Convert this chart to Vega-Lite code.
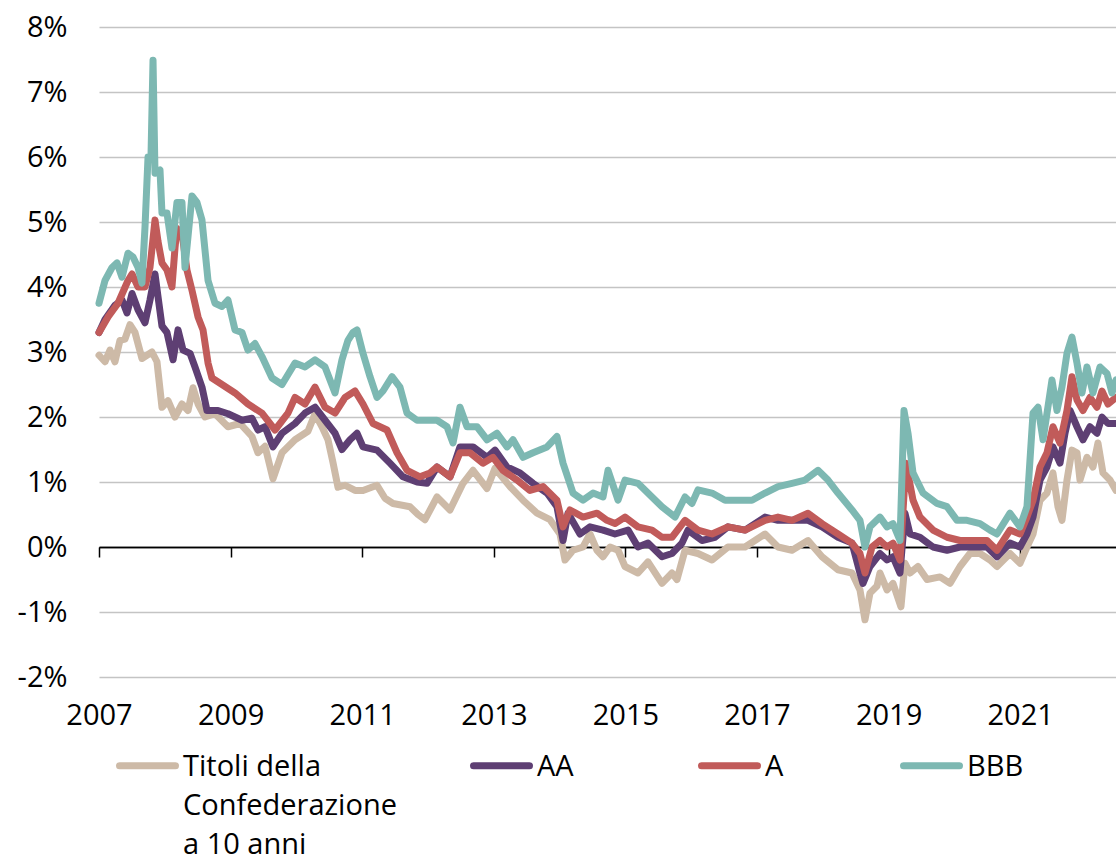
{
 "$schema": "https://vega.github.io/schema/vega-lite/v6.json",
 "width": 1017,
 "height": 650,
 "autosize": {"type": "none"},
 "padding": {"left": 99, "top": 27, "right": 0, "bottom": 177},
 "background": "white",
 "config": {"view": {"stroke": null}, "font": "Open Sans"},
 "datasets": {
  "rates": [
{"t":2007.000,"s":"Titoli della Confederazione a 10 anni","v":2.95},
{"t":2007.091,"s":"Titoli della Confederazione a 10 anni","v":2.85},
{"t":2007.167,"s":"Titoli della Confederazione a 10 anni","v":3.03},
{"t":2007.243,"s":"Titoli della Confederazione a 10 anni","v":2.85},
{"t":2007.319,"s":"Titoli della Confederazione a 10 anni","v":3.18},
{"t":2007.395,"s":"Titoli della Confederazione a 10 anni","v":3.2},
{"t":2007.471,"s":"Titoli della Confederazione a 10 anni","v":3.42},
{"t":2007.547,"s":"Titoli della Confederazione a 10 anni","v":3.3},
{"t":2007.653,"s":"Titoli della Confederazione a 10 anni","v":2.9},
{"t":2007.729,"s":"Titoli della Confederazione a 10 anni","v":2.95},
{"t":2007.805,"s":"Titoli della Confederazione a 10 anni","v":3.0},
{"t":2007.881,"s":"Titoli della Confederazione a 10 anni","v":2.85},
{"t":2007.957,"s":"Titoli della Confederazione a 10 anni","v":2.15},
{"t":2008.049,"s":"Titoli della Confederazione a 10 anni","v":2.25},
{"t":2008.155,"s":"Titoli della Confederazione a 10 anni","v":2.0},
{"t":2008.261,"s":"Titoli della Confederazione a 10 anni","v":2.2},
{"t":2008.353,"s":"Titoli della Confederazione a 10 anni","v":2.1},
{"t":2008.429,"s":"Titoli della Confederazione a 10 anni","v":2.45},
{"t":2008.505,"s":"Titoli della Confederazione a 10 anni","v":2.2},
{"t":2008.611,"s":"Titoli della Confederazione a 10 anni","v":2.0},
{"t":2008.763,"s":"Titoli della Confederazione a 10 anni","v":2.05},
{"t":2008.960,"s":"Titoli della Confederazione a 10 anni","v":1.85},
{"t":2009.143,"s":"Titoli della Confederazione a 10 anni","v":1.9},
{"t":2009.325,"s":"Titoli della Confederazione a 10 anni","v":1.7},
{"t":2009.416,"s":"Titoli della Confederazione a 10 anni","v":1.45},
{"t":2009.523,"s":"Titoli della Confederazione a 10 anni","v":1.55},
{"t":2009.644,"s":"Titoli della Confederazione a 10 anni","v":1.05},
{"t":2009.781,"s":"Titoli della Confederazione a 10 anni","v":1.45},
{"t":2009.979,"s":"Titoli della Confederazione a 10 anni","v":1.65},
{"t":2010.176,"s":"Titoli della Confederazione a 10 anni","v":1.78},
{"t":2010.283,"s":"Titoli della Confederazione a 10 anni","v":2.05},
{"t":2010.389,"s":"Titoli della Confederazione a 10 anni","v":1.85},
{"t":2010.480,"s":"Titoli della Confederazione a 10 anni","v":1.65},
{"t":2010.556,"s":"Titoli della Confederazione a 10 anni","v":1.3},
{"t":2010.632,"s":"Titoli della Confederazione a 10 anni","v":0.92},
{"t":2010.739,"s":"Titoli della Confederazione a 10 anni","v":0.95},
{"t":2010.891,"s":"Titoli della Confederazione a 10 anni","v":0.87},
{"t":2011.012,"s":"Titoli della Confederazione a 10 anni","v":0.87},
{"t":2011.225,"s":"Titoli della Confederazione a 10 anni","v":0.95},
{"t":2011.347,"s":"Titoli della Confederazione a 10 anni","v":0.75},
{"t":2011.468,"s":"Titoli della Confederazione a 10 anni","v":0.67},
{"t":2011.726,"s":"Titoli della Confederazione a 10 anni","v":0.62},
{"t":2011.848,"s":"Titoli della Confederazione a 10 anni","v":0.5},
{"t":2011.954,"s":"Titoli della Confederazione a 10 anni","v":0.42},
{"t":2012.137,"s":"Titoli della Confederazione a 10 anni","v":0.77},
{"t":2012.334,"s":"Titoli della Confederazione a 10 anni","v":0.57},
{"t":2012.532,"s":"Titoli della Confederazione a 10 anni","v":0.98},
{"t":2012.684,"s":"Titoli della Confederazione a 10 anni","v":1.18},
{"t":2012.897,"s":"Titoli della Confederazione a 10 anni","v":0.9},
{"t":2013.018,"s":"Titoli della Confederazione a 10 anni","v":1.21},
{"t":2013.246,"s":"Titoli della Confederazione a 10 anni","v":0.93},
{"t":2013.444,"s":"Titoli della Confederazione a 10 anni","v":0.72},
{"t":2013.657,"s":"Titoli della Confederazione a 10 anni","v":0.52},
{"t":2013.854,"s":"Titoli della Confederazione a 10 anni","v":0.42},
{"t":2014.006,"s":"Titoli della Confederazione a 10 anni","v":0.2},
{"t":2014.082,"s":"Titoli della Confederazione a 10 anni","v":-0.2},
{"t":2014.204,"s":"Titoli della Confederazione a 10 anni","v":-0.05},
{"t":2014.356,"s":"Titoli della Confederazione a 10 anni","v":0.0},
{"t":2014.462,"s":"Titoli della Confederazione a 10 anni","v":0.2},
{"t":2014.568,"s":"Titoli della Confederazione a 10 anni","v":-0.05},
{"t":2014.660,"s":"Titoli della Confederazione a 10 anni","v":-0.15},
{"t":2014.766,"s":"Titoli della Confederazione a 10 anni","v":0.0},
{"t":2014.888,"s":"Titoli della Confederazione a 10 anni","v":-0.05},
{"t":2014.994,"s":"Titoli della Confederazione a 10 anni","v":-0.3},
{"t":2015.191,"s":"Titoli della Confederazione a 10 anni","v":-0.4},
{"t":2015.343,"s":"Titoli della Confederazione a 10 anni","v":-0.23},
{"t":2015.556,"s":"Titoli della Confederazione a 10 anni","v":-0.56},
{"t":2015.708,"s":"Titoli della Confederazione a 10 anni","v":-0.4},
{"t":2015.784,"s":"Titoli della Confederazione a 10 anni","v":-0.5},
{"t":2015.906,"s":"Titoli della Confederazione a 10 anni","v":-0.05},
{"t":2016.103,"s":"Titoli della Confederazione a 10 anni","v":-0.1},
{"t":2016.316,"s":"Titoli della Confederazione a 10 anni","v":-0.2},
{"t":2016.559,"s":"Titoli della Confederazione a 10 anni","v":0.0},
{"t":2016.818,"s":"Titoli della Confederazione a 10 anni","v":0.0},
{"t":2017.122,"s":"Titoli della Confederazione a 10 anni","v":0.2},
{"t":2017.319,"s":"Titoli della Confederazione a 10 anni","v":0.0},
{"t":2017.532,"s":"Titoli della Confederazione a 10 anni","v":-0.05},
{"t":2017.775,"s":"Titoli della Confederazione a 10 anni","v":0.1},
{"t":2017.988,"s":"Titoli della Confederazione a 10 anni","v":-0.15},
{"t":2018.231,"s":"Titoli della Confederazione a 10 anni","v":-0.35},
{"t":2018.444,"s":"Titoli della Confederazione a 10 anni","v":-0.4},
{"t":2018.565,"s":"Titoli della Confederazione a 10 anni","v":-0.66},
{"t":2018.641,"s":"Titoli della Confederazione a 10 anni","v":-1.12},
{"t":2018.717,"s":"Titoli della Confederazione a 10 anni","v":-0.71},
{"t":2018.824,"s":"Titoli della Confederazione a 10 anni","v":-0.6},
{"t":2018.869,"s":"Titoli della Confederazione a 10 anni","v":-0.4},
{"t":2018.976,"s":"Titoli della Confederazione a 10 anni","v":-0.66},
{"t":2019.067,"s":"Titoli della Confederazione a 10 anni","v":-0.56},
{"t":2019.188,"s":"Titoli della Confederazione a 10 anni","v":-0.92},
{"t":2019.249,"s":"Titoli della Confederazione a 10 anni","v":-0.25},
{"t":2019.325,"s":"Titoli della Confederazione a 10 anni","v":-0.4},
{"t":2019.447,"s":"Titoli della Confederazione a 10 anni","v":-0.3},
{"t":2019.584,"s":"Titoli della Confederazione a 10 anni","v":-0.5},
{"t":2019.781,"s":"Titoli della Confederazione a 10 anni","v":-0.46},
{"t":2019.933,"s":"Titoli della Confederazione a 10 anni","v":-0.56},
{"t":2020.085,"s":"Titoli della Confederazione a 10 anni","v":-0.3},
{"t":2020.237,"s":"Titoli della Confederazione a 10 anni","v":-0.1},
{"t":2020.389,"s":"Titoli della Confederazione a 10 anni","v":-0.1},
{"t":2020.541,"s":"Titoli della Confederazione a 10 anni","v":-0.2},
{"t":2020.647,"s":"Titoli della Confederazione a 10 anni","v":-0.3},
{"t":2020.845,"s":"Titoli della Confederazione a 10 anni","v":-0.1},
{"t":2020.997,"s":"Titoli della Confederazione a 10 anni","v":-0.25},
{"t":2021.103,"s":"Titoli della Confederazione a 10 anni","v":0.0},
{"t":2021.195,"s":"Titoli della Confederazione a 10 anni","v":0.2},
{"t":2021.301,"s":"Titoli della Confederazione a 10 anni","v":0.72},
{"t":2021.407,"s":"Titoli della Confederazione a 10 anni","v":0.83},
{"t":2021.498,"s":"Titoli della Confederazione a 10 anni","v":1.14},
{"t":2021.574,"s":"Titoli della Confederazione a 10 anni","v":0.62},
{"t":2021.635,"s":"Titoli della Confederazione a 10 anni","v":0.41},
{"t":2021.711,"s":"Titoli della Confederazione a 10 anni","v":1.03},
{"t":2021.787,"s":"Titoli della Confederazione a 10 anni","v":1.49},
{"t":2021.863,"s":"Titoli della Confederazione a 10 anni","v":1.45},
{"t":2021.909,"s":"Titoli della Confederazione a 10 anni","v":1.03},
{"t":2022.015,"s":"Titoli della Confederazione a 10 anni","v":1.38},
{"t":2022.106,"s":"Titoli della Confederazione a 10 anni","v":1.23},
{"t":2022.182,"s":"Titoli della Confederazione a 10 anni","v":1.6},
{"t":2022.258,"s":"Titoli della Confederazione a 10 anni","v":1.14},
{"t":2022.365,"s":"Titoli della Confederazione a 10 anni","v":1.03},
{"t":2022.456,"s":"Titoli della Confederazione a 10 anni","v":0.87},
{"t":2007.000,"s":"AA","v":3.3},
{"t":2007.091,"s":"AA","v":3.5},
{"t":2007.243,"s":"AA","v":3.72},
{"t":2007.350,"s":"AA","v":3.8},
{"t":2007.426,"s":"AA","v":3.6},
{"t":2007.502,"s":"AA","v":3.9},
{"t":2007.593,"s":"AA","v":3.65},
{"t":2007.699,"s":"AA","v":3.45},
{"t":2007.775,"s":"AA","v":3.8},
{"t":2007.851,"s":"AA","v":4.2},
{"t":2007.897,"s":"AA","v":3.85},
{"t":2007.957,"s":"AA","v":3.4},
{"t":2008.033,"s":"AA","v":3.3},
{"t":2008.125,"s":"AA","v":2.88},
{"t":2008.201,"s":"AA","v":3.34},
{"t":2008.277,"s":"AA","v":3.03},
{"t":2008.383,"s":"AA","v":2.98},
{"t":2008.459,"s":"AA","v":2.77},
{"t":2008.565,"s":"AA","v":2.46},
{"t":2008.641,"s":"AA","v":2.1},
{"t":2008.809,"s":"AA","v":2.1},
{"t":2008.960,"s":"AA","v":2.05},
{"t":2009.173,"s":"AA","v":1.95},
{"t":2009.325,"s":"AA","v":1.98},
{"t":2009.416,"s":"AA","v":1.8},
{"t":2009.523,"s":"AA","v":1.85},
{"t":2009.644,"s":"AA","v":1.54},
{"t":2009.781,"s":"AA","v":1.75},
{"t":2009.979,"s":"AA","v":1.9},
{"t":2010.131,"s":"AA","v":2.06},
{"t":2010.283,"s":"AA","v":2.15},
{"t":2010.435,"s":"AA","v":1.95},
{"t":2010.587,"s":"AA","v":1.75},
{"t":2010.693,"s":"AA","v":1.5},
{"t":2010.815,"s":"AA","v":1.65},
{"t":2010.921,"s":"AA","v":1.75},
{"t":2011.012,"s":"AA","v":1.54},
{"t":2011.225,"s":"AA","v":1.49},
{"t":2011.422,"s":"AA","v":1.29},
{"t":2011.620,"s":"AA","v":1.08},
{"t":2011.833,"s":"AA","v":1.0},
{"t":2011.985,"s":"AA","v":0.98},
{"t":2012.137,"s":"AA","v":1.23},
{"t":2012.334,"s":"AA","v":1.08},
{"t":2012.486,"s":"AA","v":1.54},
{"t":2012.684,"s":"AA","v":1.54},
{"t":2012.897,"s":"AA","v":1.38},
{"t":2013.018,"s":"AA","v":1.49},
{"t":2013.201,"s":"AA","v":1.23},
{"t":2013.398,"s":"AA","v":1.14},
{"t":2013.596,"s":"AA","v":0.98},
{"t":2013.809,"s":"AA","v":0.83},
{"t":2013.960,"s":"AA","v":0.62},
{"t":2014.052,"s":"AA","v":0.1},
{"t":2014.128,"s":"AA","v":0.52},
{"t":2014.310,"s":"AA","v":0.2},
{"t":2014.462,"s":"AA","v":0.31},
{"t":2014.660,"s":"AA","v":0.26},
{"t":2014.842,"s":"AA","v":0.2},
{"t":2015.040,"s":"AA","v":0.26},
{"t":2015.191,"s":"AA","v":0.0},
{"t":2015.343,"s":"AA","v":0.06},
{"t":2015.556,"s":"AA","v":-0.15},
{"t":2015.708,"s":"AA","v":-0.1},
{"t":2015.860,"s":"AA","v":0.06},
{"t":2015.951,"s":"AA","v":0.26},
{"t":2016.164,"s":"AA","v":0.1},
{"t":2016.362,"s":"AA","v":0.15},
{"t":2016.559,"s":"AA","v":0.31},
{"t":2016.818,"s":"AA","v":0.26},
{"t":2017.122,"s":"AA","v":0.46},
{"t":2017.319,"s":"AA","v":0.41},
{"t":2017.532,"s":"AA","v":0.41},
{"t":2017.775,"s":"AA","v":0.41},
{"t":2017.988,"s":"AA","v":0.31},
{"t":2018.231,"s":"AA","v":0.15},
{"t":2018.444,"s":"AA","v":0.06},
{"t":2018.565,"s":"AA","v":-0.4},
{"t":2018.611,"s":"AA","v":-0.56},
{"t":2018.717,"s":"AA","v":-0.3},
{"t":2018.869,"s":"AA","v":-0.1},
{"t":2018.976,"s":"AA","v":-0.2},
{"t":2019.067,"s":"AA","v":-0.15},
{"t":2019.173,"s":"AA","v":-0.4},
{"t":2019.249,"s":"AA","v":0.52},
{"t":2019.325,"s":"AA","v":0.2},
{"t":2019.477,"s":"AA","v":0.15},
{"t":2019.675,"s":"AA","v":0.0},
{"t":2019.888,"s":"AA","v":-0.05},
{"t":2020.085,"s":"AA","v":0.0},
{"t":2020.283,"s":"AA","v":0.0},
{"t":2020.495,"s":"AA","v":0.0},
{"t":2020.647,"s":"AA","v":-0.15},
{"t":2020.845,"s":"AA","v":0.06},
{"t":2020.997,"s":"AA","v":0.0},
{"t":2021.103,"s":"AA","v":0.2},
{"t":2021.195,"s":"AA","v":0.46},
{"t":2021.301,"s":"AA","v":1.03},
{"t":2021.407,"s":"AA","v":1.23},
{"t":2021.498,"s":"AA","v":1.54},
{"t":2021.605,"s":"AA","v":1.29},
{"t":2021.681,"s":"AA","v":1.75},
{"t":2021.757,"s":"AA","v":2.1},
{"t":2021.863,"s":"AA","v":1.85},
{"t":2021.954,"s":"AA","v":1.65},
{"t":2022.061,"s":"AA","v":1.85},
{"t":2022.167,"s":"AA","v":1.75},
{"t":2022.243,"s":"AA","v":2.0},
{"t":2022.334,"s":"AA","v":1.9},
{"t":2022.456,"s":"AA","v":1.9},
{"t":2007.000,"s":"A","v":3.3},
{"t":2007.137,"s":"A","v":3.54},
{"t":2007.289,"s":"A","v":3.75},
{"t":2007.441,"s":"A","v":4.1},
{"t":2007.502,"s":"A","v":4.2},
{"t":2007.593,"s":"A","v":4.0},
{"t":2007.699,"s":"A","v":4.0},
{"t":2007.775,"s":"A","v":4.3},
{"t":2007.851,"s":"A","v":5.03},
{"t":2007.897,"s":"A","v":4.7},
{"t":2007.957,"s":"A","v":4.37},
{"t":2008.033,"s":"A","v":4.26},
{"t":2008.109,"s":"A","v":4.0},
{"t":2008.155,"s":"A","v":4.6},
{"t":2008.185,"s":"A","v":4.9},
{"t":2008.261,"s":"A","v":4.83},
{"t":2008.337,"s":"A","v":4.26},
{"t":2008.413,"s":"A","v":3.95},
{"t":2008.505,"s":"A","v":3.54},
{"t":2008.581,"s":"A","v":3.34},
{"t":2008.657,"s":"A","v":2.83},
{"t":2008.717,"s":"A","v":2.6},
{"t":2008.869,"s":"A","v":2.5},
{"t":2009.067,"s":"A","v":2.37},
{"t":2009.264,"s":"A","v":2.2},
{"t":2009.477,"s":"A","v":2.06},
{"t":2009.675,"s":"A","v":1.8},
{"t":2009.872,"s":"A","v":2.06},
{"t":2009.979,"s":"A","v":2.3},
{"t":2010.131,"s":"A","v":2.2},
{"t":2010.283,"s":"A","v":2.46},
{"t":2010.435,"s":"A","v":2.15},
{"t":2010.587,"s":"A","v":2.06},
{"t":2010.739,"s":"A","v":2.3},
{"t":2010.891,"s":"A","v":2.4},
{"t":2011.012,"s":"A","v":2.2},
{"t":2011.164,"s":"A","v":1.9},
{"t":2011.377,"s":"A","v":1.8},
{"t":2011.529,"s":"A","v":1.45},
{"t":2011.681,"s":"A","v":1.18},
{"t":2011.878,"s":"A","v":1.08},
{"t":2012.030,"s":"A","v":1.14},
{"t":2012.137,"s":"A","v":1.23},
{"t":2012.334,"s":"A","v":1.08},
{"t":2012.486,"s":"A","v":1.45},
{"t":2012.638,"s":"A","v":1.45},
{"t":2012.836,"s":"A","v":1.29},
{"t":2012.988,"s":"A","v":1.38},
{"t":2013.140,"s":"A","v":1.18},
{"t":2013.353,"s":"A","v":1.03},
{"t":2013.550,"s":"A","v":0.87},
{"t":2013.748,"s":"A","v":0.93},
{"t":2013.960,"s":"A","v":0.72},
{"t":2014.052,"s":"A","v":0.31},
{"t":2014.158,"s":"A","v":0.57},
{"t":2014.356,"s":"A","v":0.46},
{"t":2014.568,"s":"A","v":0.52},
{"t":2014.720,"s":"A","v":0.41},
{"t":2014.842,"s":"A","v":0.36},
{"t":2014.994,"s":"A","v":0.46},
{"t":2015.191,"s":"A","v":0.31},
{"t":2015.404,"s":"A","v":0.26},
{"t":2015.556,"s":"A","v":0.15},
{"t":2015.708,"s":"A","v":0.15},
{"t":2015.906,"s":"A","v":0.41},
{"t":2016.103,"s":"A","v":0.26},
{"t":2016.316,"s":"A","v":0.2},
{"t":2016.559,"s":"A","v":0.31},
{"t":2016.818,"s":"A","v":0.26},
{"t":2017.122,"s":"A","v":0.41},
{"t":2017.319,"s":"A","v":0.46},
{"t":2017.532,"s":"A","v":0.41},
{"t":2017.775,"s":"A","v":0.52},
{"t":2017.988,"s":"A","v":0.36},
{"t":2018.231,"s":"A","v":0.2},
{"t":2018.444,"s":"A","v":0.06},
{"t":2018.565,"s":"A","v":-0.1},
{"t":2018.641,"s":"A","v":-0.4},
{"t":2018.748,"s":"A","v":0.0},
{"t":2018.869,"s":"A","v":0.1},
{"t":2018.976,"s":"A","v":0.0},
{"t":2019.067,"s":"A","v":0.06},
{"t":2019.173,"s":"A","v":-0.2},
{"t":2019.264,"s":"A","v":1.29},
{"t":2019.371,"s":"A","v":0.72},
{"t":2019.477,"s":"A","v":0.46},
{"t":2019.675,"s":"A","v":0.26},
{"t":2019.888,"s":"A","v":0.15},
{"t":2020.085,"s":"A","v":0.1},
{"t":2020.283,"s":"A","v":0.1},
{"t":2020.495,"s":"A","v":0.1},
{"t":2020.647,"s":"A","v":-0.05},
{"t":2020.845,"s":"A","v":0.26},
{"t":2020.997,"s":"A","v":0.2},
{"t":2021.103,"s":"A","v":0.46},
{"t":2021.195,"s":"A","v":0.72},
{"t":2021.301,"s":"A","v":1.23},
{"t":2021.407,"s":"A","v":1.45},
{"t":2021.498,"s":"A","v":1.85},
{"t":2021.605,"s":"A","v":1.6},
{"t":2021.711,"s":"A","v":2.1},
{"t":2021.787,"s":"A","v":2.62},
{"t":2021.863,"s":"A","v":2.26},
{"t":2021.954,"s":"A","v":2.1},
{"t":2022.061,"s":"A","v":2.3},
{"t":2022.167,"s":"A","v":2.15},
{"t":2022.243,"s":"A","v":2.4},
{"t":2022.334,"s":"A","v":2.2},
{"t":2022.456,"s":"A","v":2.3},
{"t":2007.000,"s":"BBB","v":3.75},
{"t":2007.091,"s":"BBB","v":4.1},
{"t":2007.198,"s":"BBB","v":4.3},
{"t":2007.274,"s":"BBB","v":4.37},
{"t":2007.350,"s":"BBB","v":4.15},
{"t":2007.441,"s":"BBB","v":4.52},
{"t":2007.517,"s":"BBB","v":4.46},
{"t":2007.593,"s":"BBB","v":4.3},
{"t":2007.653,"s":"BBB","v":4.06},
{"t":2007.699,"s":"BBB","v":4.92},
{"t":2007.745,"s":"BBB","v":6.0},
{"t":2007.790,"s":"BBB","v":6.0},
{"t":2007.821,"s":"BBB","v":7.49},
{"t":2007.851,"s":"BBB","v":5.75},
{"t":2007.927,"s":"BBB","v":5.8},
{"t":2007.957,"s":"BBB","v":5.14},
{"t":2008.033,"s":"BBB","v":5.14},
{"t":2008.109,"s":"BBB","v":4.6},
{"t":2008.185,"s":"BBB","v":5.3},
{"t":2008.261,"s":"BBB","v":5.3},
{"t":2008.307,"s":"BBB","v":4.3},
{"t":2008.413,"s":"BBB","v":5.4},
{"t":2008.489,"s":"BBB","v":5.3},
{"t":2008.565,"s":"BBB","v":5.03},
{"t":2008.657,"s":"BBB","v":4.1},
{"t":2008.763,"s":"BBB","v":3.75},
{"t":2008.869,"s":"BBB","v":3.7},
{"t":2008.960,"s":"BBB","v":3.8},
{"t":2009.067,"s":"BBB","v":3.34},
{"t":2009.173,"s":"BBB","v":3.3},
{"t":2009.264,"s":"BBB","v":3.03},
{"t":2009.371,"s":"BBB","v":3.13},
{"t":2009.477,"s":"BBB","v":2.93},
{"t":2009.629,"s":"BBB","v":2.6},
{"t":2009.781,"s":"BBB","v":2.5},
{"t":2009.979,"s":"BBB","v":2.83},
{"t":2010.131,"s":"BBB","v":2.77},
{"t":2010.283,"s":"BBB","v":2.88},
{"t":2010.435,"s":"BBB","v":2.77},
{"t":2010.587,"s":"BBB","v":2.37},
{"t":2010.693,"s":"BBB","v":2.88},
{"t":2010.784,"s":"BBB","v":3.18},
{"t":2010.860,"s":"BBB","v":3.3},
{"t":2010.921,"s":"BBB","v":3.34},
{"t":2011.012,"s":"BBB","v":2.98},
{"t":2011.119,"s":"BBB","v":2.62},
{"t":2011.225,"s":"BBB","v":2.3},
{"t":2011.316,"s":"BBB","v":2.4},
{"t":2011.453,"s":"BBB","v":2.62},
{"t":2011.574,"s":"BBB","v":2.46},
{"t":2011.681,"s":"BBB","v":2.06},
{"t":2011.833,"s":"BBB","v":1.95},
{"t":2011.985,"s":"BBB","v":1.95},
{"t":2012.137,"s":"BBB","v":1.95},
{"t":2012.289,"s":"BBB","v":1.85},
{"t":2012.380,"s":"BBB","v":1.6},
{"t":2012.486,"s":"BBB","v":2.15},
{"t":2012.593,"s":"BBB","v":1.85},
{"t":2012.745,"s":"BBB","v":1.85},
{"t":2012.897,"s":"BBB","v":1.65},
{"t":2013.049,"s":"BBB","v":1.75},
{"t":2013.201,"s":"BBB","v":1.54},
{"t":2013.292,"s":"BBB","v":1.65},
{"t":2013.444,"s":"BBB","v":1.38},
{"t":2013.596,"s":"BBB","v":1.45},
{"t":2013.809,"s":"BBB","v":1.54},
{"t":2013.960,"s":"BBB","v":1.7},
{"t":2014.052,"s":"BBB","v":1.29},
{"t":2014.204,"s":"BBB","v":0.83},
{"t":2014.356,"s":"BBB","v":0.72},
{"t":2014.508,"s":"BBB","v":0.83},
{"t":2014.660,"s":"BBB","v":0.77},
{"t":2014.736,"s":"BBB","v":1.18},
{"t":2014.888,"s":"BBB","v":0.72},
{"t":2014.994,"s":"BBB","v":1.03},
{"t":2015.191,"s":"BBB","v":0.98},
{"t":2015.404,"s":"BBB","v":0.77},
{"t":2015.556,"s":"BBB","v":0.62},
{"t":2015.754,"s":"BBB","v":0.46},
{"t":2015.906,"s":"BBB","v":0.77},
{"t":2016.012,"s":"BBB","v":0.67},
{"t":2016.103,"s":"BBB","v":0.88},
{"t":2016.316,"s":"BBB","v":0.83},
{"t":2016.514,"s":"BBB","v":0.72},
{"t":2016.711,"s":"BBB","v":0.72},
{"t":2016.924,"s":"BBB","v":0.72},
{"t":2017.122,"s":"BBB","v":0.83},
{"t":2017.319,"s":"BBB","v":0.93},
{"t":2017.532,"s":"BBB","v":0.98},
{"t":2017.729,"s":"BBB","v":1.03},
{"t":2017.927,"s":"BBB","v":1.18},
{"t":2018.079,"s":"BBB","v":1.03},
{"t":2018.231,"s":"BBB","v":0.83},
{"t":2018.444,"s":"BBB","v":0.57},
{"t":2018.565,"s":"BBB","v":0.41},
{"t":2018.641,"s":"BBB","v":0.0},
{"t":2018.717,"s":"BBB","v":0.31},
{"t":2018.869,"s":"BBB","v":0.46},
{"t":2018.976,"s":"BBB","v":0.31},
{"t":2019.067,"s":"BBB","v":0.36},
{"t":2019.173,"s":"BBB","v":0.1},
{"t":2019.234,"s":"BBB","v":2.1},
{"t":2019.295,"s":"BBB","v":1.75},
{"t":2019.371,"s":"BBB","v":1.14},
{"t":2019.523,"s":"BBB","v":0.83},
{"t":2019.736,"s":"BBB","v":0.67},
{"t":2019.888,"s":"BBB","v":0.62},
{"t":2020.040,"s":"BBB","v":0.41},
{"t":2020.191,"s":"BBB","v":0.41},
{"t":2020.389,"s":"BBB","v":0.36},
{"t":2020.541,"s":"BBB","v":0.26},
{"t":2020.647,"s":"BBB","v":0.2},
{"t":2020.845,"s":"BBB","v":0.52},
{"t":2020.997,"s":"BBB","v":0.31},
{"t":2021.103,"s":"BBB","v":0.62},
{"t":2021.195,"s":"BBB","v":2.06},
{"t":2021.271,"s":"BBB","v":2.15},
{"t":2021.347,"s":"BBB","v":1.65},
{"t":2021.483,"s":"BBB","v":2.57},
{"t":2021.559,"s":"BBB","v":2.1},
{"t":2021.635,"s":"BBB","v":2.46},
{"t":2021.711,"s":"BBB","v":2.98},
{"t":2021.787,"s":"BBB","v":3.23},
{"t":2021.863,"s":"BBB","v":2.83},
{"t":2021.939,"s":"BBB","v":2.37},
{"t":2022.015,"s":"BBB","v":2.77},
{"t":2022.106,"s":"BBB","v":2.37},
{"t":2022.213,"s":"BBB","v":2.77},
{"t":2022.319,"s":"BBB","v":2.67},
{"t":2022.395,"s":"BBB","v":2.37},
{"t":2022.456,"s":"BBB","v":2.57}
  ]
 },
 "data": {"name": "rates"},
 "layer": [
  {
   "mark": {"type": "line", "strokeWidth": 7, "strokeJoin": "round", "strokeCap": "round"},
   "encoding": {
    "x": {
     "field": "t", "type": "quantitative",
     "scale": {"domain": [2007, 2022.456], "nice": false, "zero": false},
     "axis": {"orient": "bottom", "offset": -130, "values": [2007, 2009, 2011, 2013, 2015, 2017, 2019, 2021],
      "labels": false, "ticks": true, "tickSize": 10, "tickColor": "black", "tickWidth": 1.5,
      "domain": true, "domainColor": "black", "domainWidth": 1.5, "grid": false, "title": null, "zindex": 0}
    },
    "y": {
     "field": "v", "type": "quantitative",
     "scale": {"domain": [-2, 8], "nice": false, "zero": false},
     "axis": {"orient": "left", "values": [-2, -1, 0, 1, 2, 3, 4, 5, 6, 7, 8], "labelExpr": "datum.value + '%'",
      "domain": false, "ticks": false, "tickSize": 0, "labelPadding": 32, "labelFontSize": 29, "labelFont": "Open Sans",
      "labelColor": "black", "grid": true,
      "gridColor": {"condition": {"test": "datum.value === 0", "value": "black"}, "value": "#c4c4c4"},
      "gridWidth": 1.5, "title": null}
    },
    "color": {
     "field": "s", "type": "nominal",
     "scale": {"domain": ["Titoli della Confederazione a 10 anni", "AA", "A", "BBB"], "range": ["#cdbaa7", "#5e3f73", "#c15b5a", "#7db8b2"]},
     "legend": {
      "orient": "none", "legendX": 17, "legendY": 707, "direction": "horizontal", "columns": 4, "title": null,
      "symbolType": "stroke", "symbolSize": 3136, "symbolStrokeWidth": 7,
      "labelFontSize": 29, "labelFont": "Open Sans", "labelColor": "black", "labelOffset": 4, "labelLimit": 500,
      "columnPadding": 62, "padding": 0, "gridAlign": "each", "labelBaseline": "alphabetic",
      "labelExpr": "datum.label == 'AA' ? ['AA    \u2800', ' ', ' '] : datum.label == 'A' ? ['A   \u2800', ' ', ' '] : datum.label == 'BBB' ? ['BBB', ' ', ' '] : ['Titoli della', 'Confederazione', 'a 10 anni']",
      "encode": {
       "symbols": {"update": {"strokeCap": {"value": "round"}}},
       "labels": {"update": {"dy": {"value": 10}, "lineHeight": {"value": 39}}}
      }
     }
    }
   }
  },
  {
   "mark": {"type": "point", "opacity": 0},
   "encoding": {
    "x": {
     "aggregate": "min", "field": "t", "type": "quantitative",
     "axis": {"orient": "bottom", "values": [2007, 2009, 2011, 2013, 2015, 2017, 2019, 2021], "format": "d",
      "labelFlush": false, "labelOverlap": false, "labelPadding": 24, "labelFontSize": 29, "labelFont": "Open Sans",
      "labelColor": "black", "ticks": false, "tickSize": 0, "domain": false, "grid": false, "title": null}
    },
    "y": {"datum": 0}
   }
  }
 ],
 "resolve": {"axis": {"x": "independent"}}
}
